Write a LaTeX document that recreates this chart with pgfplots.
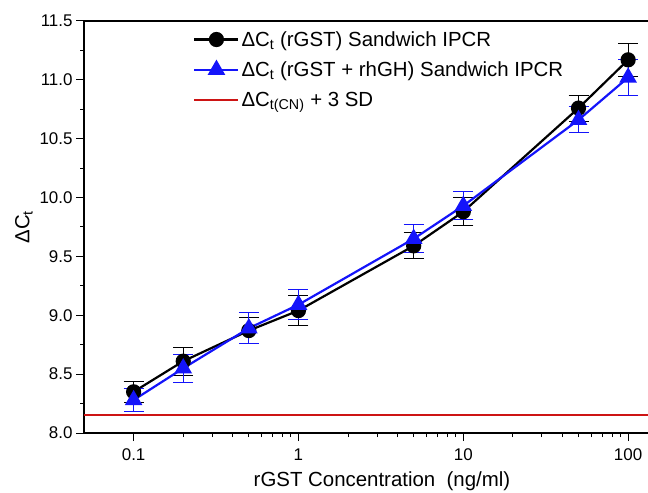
\documentclass[border=0pt]{standalone}
\usepackage{pgfplots}
\pgfplotsset{compat=1.18}
\usepackage{fontspec}
\setmainfont{Liberation Sans}
\definecolor{lineblue}{RGB}{20,20,250}
\definecolor{linered}{RGB}{205,20,20}

\begin{document}
\begin{tikzpicture}
\path[use as bounding box] (-84bp,-60bp) rectangle (564bp,433bp);
\begin{axis}[
  scale only axis,
  width=564bp, height=412bp,
  xmode=log,
  xmin=0.05, xmax=132,
  ymin=8, ymax=11.5,
  axis x line*=box, axis y line*=left,
  xtick pos=left, ytick pos=left,
  tick align=outside,
  major tick length=8bp, minor tick length=4bp,
  axis line style={line width=1.2bp},
  every tick/.style={black, line width=1bp},
  xtick={0.1,1,10,100},
  xticklabels={0.1,1,10,100},
  ytick={8,8.5,...,11.5},
  minor y tick num=1,
  yticklabel style={/pgf/number format/.cd, fixed, fixed zerofill, precision=1},
  /pgf/number format/assume math mode=true,
  tick label style={font=\fontsize{17}{20}\selectfont},
  xticklabel style={yshift=-4bp},
  label style={font=\fontsize{20.5}{24}\selectfont},
  xlabel={rGST Concentration\ \ (ng/ml)},
  ylabel={ΔC\textsubscript{t}},
  xlabel style={yshift=-4bp, xshift=16bp},
  legend style={draw=none, fill=none, at={(0.19,0.985)}, anchor=north west,
    font=\fontsize{20.5}{24}\selectfont, row sep=10bp, inner sep=2bp},
  legend cell align=left,
  legend image code/.code={
    \draw[mark repeat=2,mark phase=2,#1] plot coordinates {(0bp,0bp) (22bp,0bp) (44bp,0bp)};},
  error bars/y dir=both, error bars/y explicit,
]
\addplot[black, line width=2.2bp, mark=*, mark size=6.5bp,
  error bars/error mark options={black, mark size=10bp, line width=1bp, rotate=90},
  error bars/error bar style={black, line width=1bp}]
  coordinates {
  (0.1,8.35) +- (0,0.09)
  (0.2,8.61) +- (0,0.12)
  (0.5,8.87) +- (0,0.11)
  (1,9.04) +- (0,0.13)
  (5,9.59) +- (0,0.11)
  (10,9.88) +- (0,0.12)
  (50,10.76) +- (0,0.11)
  (100,11.17) +- (0,0.14)
};
\addlegendentry{ΔC\textsubscript{t} (rGST) Sandwich IPCR}
\addplot[lineblue, line width=2.2bp, mark=triangle*, mark size=8bp,
  error bars/error mark options={lineblue, mark size=10bp, line width=1bp, rotate=90},
  error bars/error bar style={lineblue, line width=1bp}]
  coordinates {
  (0.1,8.28) +- (0,0.10)
  (0.2,8.55) +- (0,0.12)
  (0.5,8.89) +- (0,0.13)
  (1,9.09) +- (0,0.125)
  (5,9.65) +- (0,0.12)
  (10,9.93) +- (0,0.12)
  (50,10.66) +- (0,0.11)
  (100,11.02) +- (0,0.15)
};
\addlegendentry{ΔC\textsubscript{t} (rGST + rhGH) Sandwich IPCR}
\addplot[linered, line width=1.8bp, error bars/y dir=none]
  coordinates {(0.05,8.15) (132,8.15)};
\addlegendentry{ΔC\textsubscript{t(CN)} + 3 SD}
\end{axis}
\end{tikzpicture}
\end{document}
